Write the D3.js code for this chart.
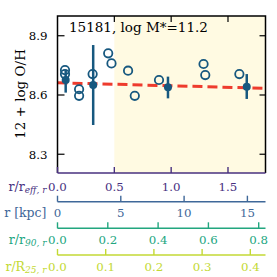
<!DOCTYPE html>
<html lang="en">
<head>
    <meta charset="UTF-8">
    <title>O/H gradient</title>
    <script src="https://d3js.org/d3.v7.min.js"></script>
    <style>
        body { margin: 0; background: white; }
        svg { display: block; }
        text { font-family: "DejaVu Serif", serif; }
    </style>
</head>
<body>
    <svg width="277" height="277"></svg>

    <script>
        // spaxel values (open circles)
        const openR = [0.066, 0.066, 0.19, 0.19, 0.309, 0.446, 0.475, 0.621, 0.68, 0.893, 1.285, 1.30, 1.60];
        const openOH = [8.726, 8.706, 8.629, 8.596, 8.706, 8.811, 8.760, 8.723, 8.596, 8.676, 8.757, 8.701, 8.706];

        // binned values (filled circles + error bars)
        const binR = [0.072, 0.314, 0.972, 1.665];
        const binOH = [8.676, 8.651, 8.639, 8.642];
        const binLo = [8.612, 8.448, 8.583, 8.580];
        const binHi = [8.726, 8.853, 8.693, 8.706];

        // linear fit
        const fitR = [0, 1.83];
        const fitOH = [8.662, 8.634];

        const yTicks = [8.3, 8.6, 8.9];
        const effTicks = [0.0, 0.5, 1.0, 1.5];
        const kpcTicks = [0, 5, 10, 15];
        const r90Ticks = [0.0, 0.2, 0.4, 0.6, 0.8];
        const r25Ticks = [0.0, 0.1, 0.2, 0.3, 0.4];

        const svg = d3.select("svg");
        const pL = 57.5, pR = 265.5, pT = 16, pB = 173;
        const ptColor = "#17587f";

        const x = d3.scaleLinear().domain([0, 1.83]).range([pL, pR]);
        const y = d3.scaleLinear().domain([8.205, 9.0]).range([pB, pT]);
        const xKpc = d3.scaleLinear().domain([0, 16.43]).range([pL, pR]);
        const x90 = d3.scaleLinear().domain([0, 0.827]).range([pL, pR]);
        const x25 = d3.scaleLinear().domain([0, 0.4315]).range([pL, pR]);

        // shaded region beyond 0.5 r_eff
        svg.append("rect")
            .attr("x", x(0.5)).attr("y", pT)
            .attr("width", pR - x(0.5)).attr("height", pB - pT)
            .attr("fill", "#fffae2");

        // fit line
        svg.append("line")
            .attr("x1", x(fitR[0])).attr("y1", y(fitOH[0]))
            .attr("x2", x(fitR[1])).attr("y2", y(fitOH[1]))
            .attr("stroke", "#ee3b2d").attr("stroke-width", 3)
            .attr("stroke-dasharray", "10,5");

        // open circles
        svg.append("g").selectAll("circle")
            .data(openR)
            .join("circle")
            .attr("cx", d => x(d))
            .attr("cy", (d, i) => y(openOH[i]))
            .attr("r", 4.2)
            .attr("fill", "none")
            .attr("stroke", ptColor)
            .attr("stroke-width", 1.8);

        // binned points
        const bins = svg.append("g");
        bins.selectAll("line")
            .data(binR)
            .join("line")
            .attr("x1", d => x(d)).attr("x2", d => x(d))
            .attr("y1", (d, i) => y(binLo[i]))
            .attr("y2", (d, i) => y(binHi[i]))
            .attr("stroke", ptColor).attr("stroke-width", 2.5);
        bins.selectAll("circle")
            .data(binR)
            .join("circle")
            .attr("cx", d => x(d))
            .attr("cy", (d, i) => y(binOH[i]))
            .attr("r", 4)
            .attr("fill", ptColor);

        // frame
        svg.append("path")
            .attr("d", `M${pL},${pB}V${pT}H${pR}V${pB}`)
            .attr("fill", "none").attr("stroke", "black").attr("stroke-width", 1.5);

        // y ticks (inward on both sides)
        yTicks.forEach(t => {
            svg.append("line").attr("x1", pL).attr("x2", pL + 7)
                .attr("y1", y(t)).attr("y2", y(t)).attr("stroke", "black").attr("stroke-width", 1.2);
            svg.append("line").attr("x1", pR - 6).attr("x2", pR)
                .attr("y1", y(t)).attr("y2", y(t)).attr("stroke", "black").attr("stroke-width", 1.2);
            svg.append("text").attr("x", 47.5).attr("y", y(t) + 4.3)
                .attr("text-anchor", "end").attr("font-size", 11.8).text(t.toFixed(1));
        });
        // top ticks
        effTicks.slice(1).forEach(t => {
            svg.append("line").attr("x1", x(t)).attr("x2", x(t))
                .attr("y1", pT).attr("y2", pT + 6).attr("stroke", "black").attr("stroke-width", 1.2);
        });

        svg.append("text")
            .attr("transform", "translate(25,94) rotate(-90)")
            .attr("text-anchor", "middle").attr("font-size", 13.5)
            .text("12 + log O/H");

        svg.append("text").attr("x", 69).attr("y", 31.5)
            .attr("font-size", 13.5).text("15181, log M*=11.2");

        // stacked radius axes below the panel
        function radAxis(scale, ticks, lineY, labelY, color, fmt, name, sub) {
            svg.append("line").attr("x1", pL).attr("x2", pR)
                .attr("y1", lineY).attr("y2", lineY)
                .attr("stroke", color).attr("stroke-width", 1.6);
            ticks.forEach(t => {
                svg.append("line").attr("x1", scale(t)).attr("x2", scale(t))
                    .attr("y1", lineY - 6).attr("y2", lineY)
                    .attr("stroke", color).attr("stroke-width", 1.4);
                svg.append("text").attr("x", scale(t)).attr("y", labelY)
                    .attr("text-anchor", "middle").attr("font-size", 11.8)
                    .attr("fill", color).text(fmt(t));
            });
            const lab = svg.append("text").attr("x", 46.5).attr("y", labelY)
                .attr("text-anchor", "end").attr("font-size", 12.5).attr("fill", color);
            lab.append("tspan").text(name);
            if (sub) {
                lab.append("tspan").attr("font-size", 9).attr("font-style", "italic")
                    .attr("dy", 2).text(sub);
            }
        }

        radAxis(x, effTicks, pB, 190.5, "#48307f", d => d.toFixed(1), "r/r", "eff, r");
        radAxis(xKpc, kpcTicks, 201.7, 217, "#3f6899", d => d, "r [kpc]", null);
        radAxis(x90, r90Ticks, 228.3, 244, "#22a67f", d => d.toFixed(1), "r/r", "90, r");
        radAxis(x25, r25Ticks, 255, 270.5, "#c3d934", d => d.toFixed(1), "r/R", "25, r");
    </script>
</body>
</html>
